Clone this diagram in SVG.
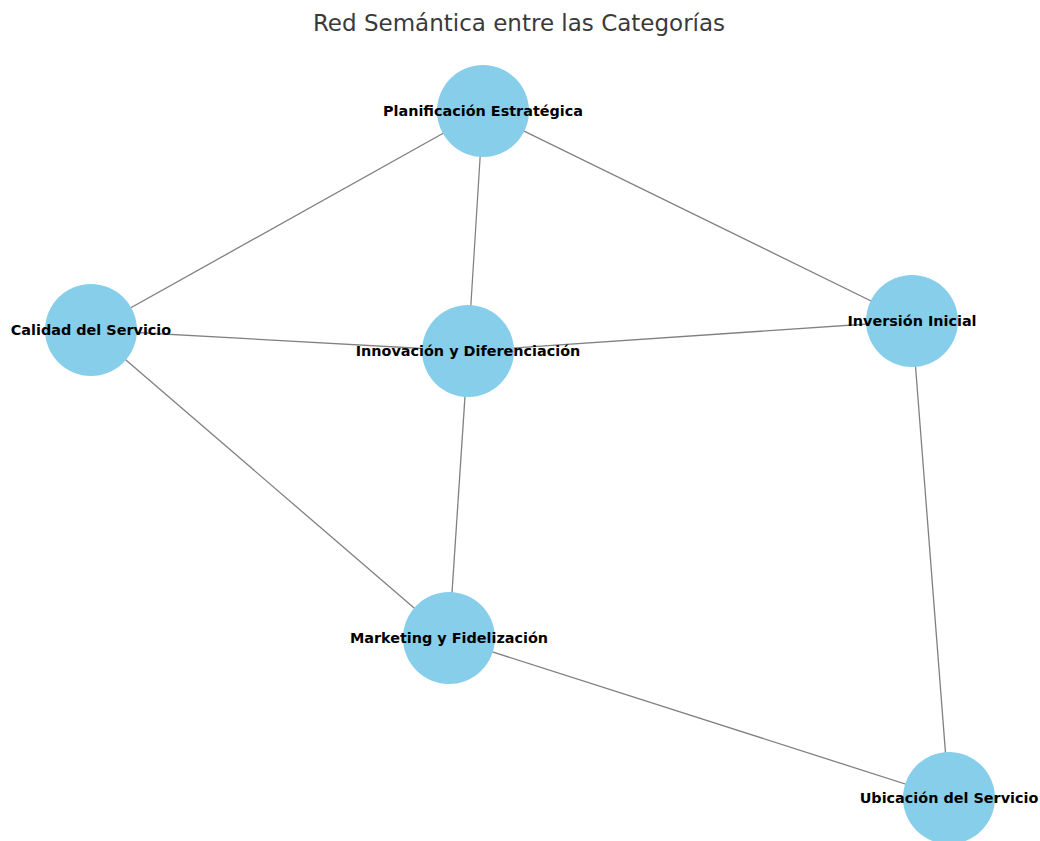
<svg xmlns="http://www.w3.org/2000/svg" width="1040" height="841" viewBox="0 0 1040 841">
  <style>
    .title { font-family: "DejaVu Sans", sans-serif; font-size: 23px; fill: #3a3a3a; text-anchor: middle; }
    .edge { stroke: #808080; stroke-width: 1.3; fill: none; }
    .node circle { fill: #87ceeb; }
    .node text { font-family: "DejaVu Sans", sans-serif; font-weight: bold; font-size: 14.4px; fill: #000; text-anchor: middle; dominant-baseline: central; }
  </style>
  <rect width="1040" height="841" fill="#ffffff"/>
  <text class="title" x="519" y="31">Red Semántica entre las Categorías</text>

  <g id="edges">
    <line class="edge" x1="483" y1="111" x2="91" y2="330"/>
    <line class="edge" x1="483" y1="111" x2="468" y2="351"/>
    <line class="edge" x1="483" y1="111" x2="912" y2="321"/>
    <line class="edge" x1="91" y1="330" x2="468" y2="351"/>
    <line class="edge" x1="91" y1="330" x2="449" y2="638"/>
    <line class="edge" x1="468" y1="351" x2="912" y2="321"/>
    <line class="edge" x1="468" y1="351" x2="449" y2="638"/>
    <line class="edge" x1="912" y1="321" x2="949" y2="798"/>
    <line class="edge" x1="449" y1="638" x2="949" y2="798"/>
  </g>

  <g id="node-planificacion" class="node">
    <circle cx="483" cy="111" r="46"/>
    <text x="483" y="111">Planificación Estratégica</text>
  </g>
  <g id="node-calidad" class="node">
    <circle cx="91" cy="330" r="46"/>
    <text x="91" y="330">Calidad del Servicio</text>
  </g>
  <g id="node-innovacion" class="node">
    <circle cx="468" cy="351" r="46"/>
    <text x="468" y="351">Innovación y Diferenciación</text>
  </g>
  <g id="node-inversion" class="node">
    <circle cx="912" cy="321" r="46"/>
    <text x="912" y="321">Inversión Inicial</text>
  </g>
  <g id="node-marketing" class="node">
    <circle cx="449" cy="638" r="46"/>
    <text x="449" y="638">Marketing y Fidelización</text>
  </g>
  <g id="node-ubicacion" class="node">
    <circle cx="949" cy="798" r="46"/>
    <text x="949" y="798">Ubicación del Servicio</text>
  </g>
</svg>
